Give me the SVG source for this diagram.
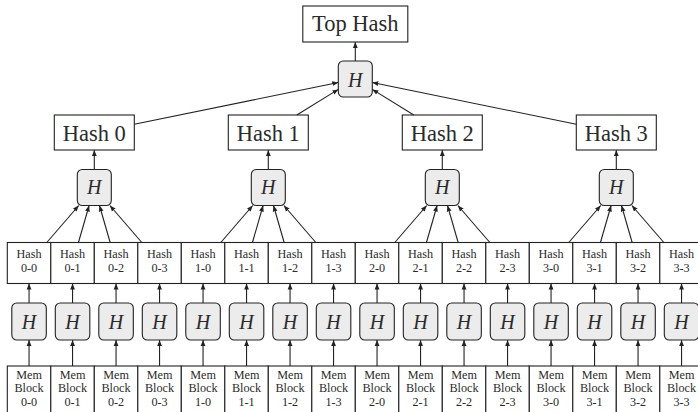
<svg xmlns="http://www.w3.org/2000/svg" width="698" height="412" viewBox="0 0 698 412" font-family="Liberation Serif, DejaVu Serif, serif">
<style>
.box{fill:#fff;stroke:#222;stroke-width:1.1}
.hb{fill:#ececec;stroke:#222;stroke-width:1.1}
.big,.sm,.h{font-family:'Liberation Serif','Times New Roman','DejaVu Serif',serif;fill:#2a2a2a;text-anchor:middle}
.big{font-size:22.5px}
.sm{font-size:12.2px}
.h{font-size:20px;font-style:italic}
.c line{stroke:#222;stroke-width:1.1;marker-end:url(#a)}
</style>
<defs>
<marker id="a" viewBox="0 0 6 6" refX="6" refY="3" markerWidth="6" markerHeight="6" orient="auto" markerUnits="userSpaceOnUse"><path d="M0,0.6 L6,3 L0,5.4 z" fill="#222"/></marker>
</defs>
<rect width="698" height="412" fill="#fff"/>
<g id="top-hash"><rect class="box" x="302.8" y="6" width="105" height="36"/><text class="big" x="355.3" y="31">Top Hash</text></g>
<g id="h-top"><rect class="hb" x="338.3" y="61" width="34" height="36" rx="5"/><text class="h" x="355.3" y="87">H</text></g>
<g id="hash-0"><rect class="box" x="54.3" y="115" width="80" height="35"/><text class="big" x="94.3" y="141">Hash 0</text></g>
<g id="hash-1"><rect class="box" x="228.3" y="115" width="80" height="35"/><text class="big" x="268.3" y="141">Hash 1</text></g>
<g id="hash-2"><rect class="box" x="402.3" y="115" width="80" height="35"/><text class="big" x="442.3" y="141">Hash 2</text></g>
<g id="hash-3"><rect class="box" x="576.3" y="115" width="80" height="35"/><text class="big" x="616.3" y="141">Hash 3</text></g>
<g id="h-g0"><rect class="hb" x="77.3" y="169.5" width="34" height="36" rx="5"/><text class="h" x="94.3" y="194">H</text></g>
<g id="h-g1"><rect class="hb" x="251.3" y="169.5" width="34" height="36" rx="5"/><text class="h" x="268.3" y="194">H</text></g>
<g id="h-g2"><rect class="hb" x="425.3" y="169.5" width="34" height="36" rx="5"/><text class="h" x="442.3" y="194">H</text></g>
<g id="h-g3"><rect class="hb" x="599.3" y="169.5" width="34" height="36" rx="5"/><text class="h" x="616.3" y="194">H</text></g>

<g id="hash-0-0"><rect class="box" x="7.3" y="242.5" width="43.5" height="41"/><text class="sm" x="29.05" y="258">Hash</text><text class="sm" x="29.05" y="271.7">0-0</text></g>
<g id="hash-0-1"><rect class="box" x="50.8" y="242.5" width="43.5" height="41"/><text class="sm" x="72.55" y="258">Hash</text><text class="sm" x="72.55" y="271.7">0-1</text></g>
<g id="hash-0-2"><rect class="box" x="94.3" y="242.5" width="43.5" height="41"/><text class="sm" x="116.05" y="258">Hash</text><text class="sm" x="116.05" y="271.7">0-2</text></g>
<g id="hash-0-3"><rect class="box" x="137.8" y="242.5" width="43.5" height="41"/><text class="sm" x="159.55" y="258">Hash</text><text class="sm" x="159.55" y="271.7">0-3</text></g>
<g id="hash-1-0"><rect class="box" x="181.3" y="242.5" width="43.5" height="41"/><text class="sm" x="203.05" y="258">Hash</text><text class="sm" x="203.05" y="271.7">1-0</text></g>
<g id="hash-1-1"><rect class="box" x="224.8" y="242.5" width="43.5" height="41"/><text class="sm" x="246.55" y="258">Hash</text><text class="sm" x="246.55" y="271.7">1-1</text></g>
<g id="hash-1-2"><rect class="box" x="268.3" y="242.5" width="43.5" height="41"/><text class="sm" x="290.05" y="258">Hash</text><text class="sm" x="290.05" y="271.7">1-2</text></g>
<g id="hash-1-3"><rect class="box" x="311.8" y="242.5" width="43.5" height="41"/><text class="sm" x="333.55" y="258">Hash</text><text class="sm" x="333.55" y="271.7">1-3</text></g>
<g id="hash-2-0"><rect class="box" x="355.3" y="242.5" width="43.5" height="41"/><text class="sm" x="377.05" y="258">Hash</text><text class="sm" x="377.05" y="271.7">2-0</text></g>
<g id="hash-2-1"><rect class="box" x="398.8" y="242.5" width="43.5" height="41"/><text class="sm" x="420.55" y="258">Hash</text><text class="sm" x="420.55" y="271.7">2-1</text></g>
<g id="hash-2-2"><rect class="box" x="442.3" y="242.5" width="43.5" height="41"/><text class="sm" x="464.05" y="258">Hash</text><text class="sm" x="464.05" y="271.7">2-2</text></g>
<g id="hash-2-3"><rect class="box" x="485.8" y="242.5" width="43.5" height="41"/><text class="sm" x="507.55" y="258">Hash</text><text class="sm" x="507.55" y="271.7">2-3</text></g>
<g id="hash-3-0"><rect class="box" x="529.3" y="242.5" width="43.5" height="41"/><text class="sm" x="551.05" y="258">Hash</text><text class="sm" x="551.05" y="271.7">3-0</text></g>
<g id="hash-3-1"><rect class="box" x="572.8" y="242.5" width="43.5" height="41"/><text class="sm" x="594.55" y="258">Hash</text><text class="sm" x="594.55" y="271.7">3-1</text></g>
<g id="hash-3-2"><rect class="box" x="616.3" y="242.5" width="43.5" height="41"/><text class="sm" x="638.05" y="258">Hash</text><text class="sm" x="638.05" y="271.7">3-2</text></g>
<g id="hash-3-3"><rect class="box" x="659.8" y="242.5" width="43.5" height="41"/><text class="sm" x="681.55" y="258">Hash</text><text class="sm" x="681.55" y="271.7">3-3</text></g>

<g id="h-0-0"><rect class="hb" x="11.8" y="303" width="34.5" height="37" rx="5"/><text class="h" x="29.05" y="329">H</text></g>
<g id="h-0-1"><rect class="hb" x="55.3" y="303" width="34.5" height="37" rx="5"/><text class="h" x="72.55" y="329">H</text></g>
<g id="h-0-2"><rect class="hb" x="98.8" y="303" width="34.5" height="37" rx="5"/><text class="h" x="116.05" y="329">H</text></g>
<g id="h-0-3"><rect class="hb" x="142.3" y="303" width="34.5" height="37" rx="5"/><text class="h" x="159.55" y="329">H</text></g>
<g id="h-1-0"><rect class="hb" x="185.8" y="303" width="34.5" height="37" rx="5"/><text class="h" x="203.05" y="329">H</text></g>
<g id="h-1-1"><rect class="hb" x="229.3" y="303" width="34.5" height="37" rx="5"/><text class="h" x="246.55" y="329">H</text></g>
<g id="h-1-2"><rect class="hb" x="272.8" y="303" width="34.5" height="37" rx="5"/><text class="h" x="290.05" y="329">H</text></g>
<g id="h-1-3"><rect class="hb" x="316.3" y="303" width="34.5" height="37" rx="5"/><text class="h" x="333.55" y="329">H</text></g>
<g id="h-2-0"><rect class="hb" x="359.8" y="303" width="34.5" height="37" rx="5"/><text class="h" x="377.05" y="329">H</text></g>
<g id="h-2-1"><rect class="hb" x="403.3" y="303" width="34.5" height="37" rx="5"/><text class="h" x="420.55" y="329">H</text></g>
<g id="h-2-2"><rect class="hb" x="446.8" y="303" width="34.5" height="37" rx="5"/><text class="h" x="464.05" y="329">H</text></g>
<g id="h-2-3"><rect class="hb" x="490.3" y="303" width="34.5" height="37" rx="5"/><text class="h" x="507.55" y="329">H</text></g>
<g id="h-3-0"><rect class="hb" x="533.8" y="303" width="34.5" height="37" rx="5"/><text class="h" x="551.05" y="329">H</text></g>
<g id="h-3-1"><rect class="hb" x="577.3" y="303" width="34.5" height="37" rx="5"/><text class="h" x="594.55" y="329">H</text></g>
<g id="h-3-2"><rect class="hb" x="620.8" y="303" width="34.5" height="37" rx="5"/><text class="h" x="638.05" y="329">H</text></g>
<g id="h-3-3"><rect class="hb" x="664.3" y="303" width="34.5" height="37" rx="5"/><text class="h" x="681.55" y="329">H</text></g>

<g id="mem-0-0"><rect class="box" x="7.3" y="366" width="43.5" height="48"/><text class="sm" x="29.05" y="378.5">Mem</text><text class="sm" x="29.05" y="392.2">Block</text><text class="sm" x="29.05" y="405.9">0-0</text></g>
<g id="mem-0-1"><rect class="box" x="50.8" y="366" width="43.5" height="48"/><text class="sm" x="72.55" y="378.5">Mem</text><text class="sm" x="72.55" y="392.2">Block</text><text class="sm" x="72.55" y="405.9">0-1</text></g>
<g id="mem-0-2"><rect class="box" x="94.3" y="366" width="43.5" height="48"/><text class="sm" x="116.05" y="378.5">Mem</text><text class="sm" x="116.05" y="392.2">Block</text><text class="sm" x="116.05" y="405.9">0-2</text></g>
<g id="mem-0-3"><rect class="box" x="137.8" y="366" width="43.5" height="48"/><text class="sm" x="159.55" y="378.5">Mem</text><text class="sm" x="159.55" y="392.2">Block</text><text class="sm" x="159.55" y="405.9">0-3</text></g>
<g id="mem-1-0"><rect class="box" x="181.3" y="366" width="43.5" height="48"/><text class="sm" x="203.05" y="378.5">Mem</text><text class="sm" x="203.05" y="392.2">Block</text><text class="sm" x="203.05" y="405.9">1-0</text></g>
<g id="mem-1-1"><rect class="box" x="224.8" y="366" width="43.5" height="48"/><text class="sm" x="246.55" y="378.5">Mem</text><text class="sm" x="246.55" y="392.2">Block</text><text class="sm" x="246.55" y="405.9">1-1</text></g>
<g id="mem-1-2"><rect class="box" x="268.3" y="366" width="43.5" height="48"/><text class="sm" x="290.05" y="378.5">Mem</text><text class="sm" x="290.05" y="392.2">Block</text><text class="sm" x="290.05" y="405.9">1-2</text></g>
<g id="mem-1-3"><rect class="box" x="311.8" y="366" width="43.5" height="48"/><text class="sm" x="333.55" y="378.5">Mem</text><text class="sm" x="333.55" y="392.2">Block</text><text class="sm" x="333.55" y="405.9">1-3</text></g>
<g id="mem-2-0"><rect class="box" x="355.3" y="366" width="43.5" height="48"/><text class="sm" x="377.05" y="378.5">Mem</text><text class="sm" x="377.05" y="392.2">Block</text><text class="sm" x="377.05" y="405.9">2-0</text></g>
<g id="mem-2-1"><rect class="box" x="398.8" y="366" width="43.5" height="48"/><text class="sm" x="420.55" y="378.5">Mem</text><text class="sm" x="420.55" y="392.2">Block</text><text class="sm" x="420.55" y="405.9">2-1</text></g>
<g id="mem-2-2"><rect class="box" x="442.3" y="366" width="43.5" height="48"/><text class="sm" x="464.05" y="378.5">Mem</text><text class="sm" x="464.05" y="392.2">Block</text><text class="sm" x="464.05" y="405.9">2-2</text></g>
<g id="mem-2-3"><rect class="box" x="485.8" y="366" width="43.5" height="48"/><text class="sm" x="507.55" y="378.5">Mem</text><text class="sm" x="507.55" y="392.2">Block</text><text class="sm" x="507.55" y="405.9">2-3</text></g>
<g id="mem-3-0"><rect class="box" x="529.3" y="366" width="43.5" height="48"/><text class="sm" x="551.05" y="378.5">Mem</text><text class="sm" x="551.05" y="392.2">Block</text><text class="sm" x="551.05" y="405.9">3-0</text></g>
<g id="mem-3-1"><rect class="box" x="572.8" y="366" width="43.5" height="48"/><text class="sm" x="594.55" y="378.5">Mem</text><text class="sm" x="594.55" y="392.2">Block</text><text class="sm" x="594.55" y="405.9">3-1</text></g>
<g id="mem-3-2"><rect class="box" x="616.3" y="366" width="43.5" height="48"/><text class="sm" x="638.05" y="378.5">Mem</text><text class="sm" x="638.05" y="392.2">Block</text><text class="sm" x="638.05" y="405.9">3-2</text></g>
<g id="mem-3-3"><rect class="box" x="659.8" y="366" width="43.5" height="48"/><text class="sm" x="681.55" y="378.5">Mem</text><text class="sm" x="681.55" y="392.2">Block</text><text class="sm" x="681.55" y="405.9">3-3</text></g>

<g id="connectors" class="c">
<line x1="355.3" y1="61" x2="355.3" y2="42"/>
<line x1="134.3" y1="124.3" x2="338.3" y2="82.5"/>
<line x1="296.8" y1="115" x2="338.3" y2="89.4"/>
<line x1="413.8" y1="115" x2="372.3" y2="89.4"/>
<line x1="576.3" y1="124.3" x2="372.3" y2="82.5"/>
<line x1="94.3" y1="169.5" x2="94.3" y2="150"/>
<line x1="268.3" y1="169.5" x2="268.3" y2="150"/>
<line x1="442.3" y1="169.5" x2="442.3" y2="150"/>
<line x1="616.3" y1="169.5" x2="616.3" y2="150"/>
<line x1="46.77" y1="242.5" x2="78.74" y2="205.5"/>
<line x1="78.45" y1="242.5" x2="89.11" y2="205.5"/>
<line x1="110.15" y1="242.5" x2="99.49" y2="205.5"/>
<line x1="141.83" y1="242.5" x2="109.86" y2="205.5"/>
<line x1="220.77" y1="242.5" x2="252.74" y2="205.5"/>
<line x1="252.45" y1="242.5" x2="263.11" y2="205.5"/>
<line x1="284.15" y1="242.5" x2="273.49" y2="205.5"/>
<line x1="315.83" y1="242.5" x2="283.86" y2="205.5"/>
<line x1="394.77" y1="242.5" x2="426.74" y2="205.5"/>
<line x1="426.45" y1="242.5" x2="437.11" y2="205.5"/>
<line x1="458.15" y1="242.5" x2="447.49" y2="205.5"/>
<line x1="489.83" y1="242.5" x2="457.86" y2="205.5"/>
<line x1="568.77" y1="242.5" x2="600.74" y2="205.5"/>
<line x1="600.45" y1="242.5" x2="611.11" y2="205.5"/>
<line x1="632.15" y1="242.5" x2="621.49" y2="205.5"/>
<line x1="663.83" y1="242.5" x2="631.86" y2="205.5"/>
<line x1="29.05" y1="303" x2="29.05" y2="283.5"/>
<line x1="72.55" y1="303" x2="72.55" y2="283.5"/>
<line x1="116.05" y1="303" x2="116.05" y2="283.5"/>
<line x1="159.55" y1="303" x2="159.55" y2="283.5"/>
<line x1="203.05" y1="303" x2="203.05" y2="283.5"/>
<line x1="246.55" y1="303" x2="246.55" y2="283.5"/>
<line x1="290.05" y1="303" x2="290.05" y2="283.5"/>
<line x1="333.55" y1="303" x2="333.55" y2="283.5"/>
<line x1="377.05" y1="303" x2="377.05" y2="283.5"/>
<line x1="420.55" y1="303" x2="420.55" y2="283.5"/>
<line x1="464.05" y1="303" x2="464.05" y2="283.5"/>
<line x1="507.55" y1="303" x2="507.55" y2="283.5"/>
<line x1="551.05" y1="303" x2="551.05" y2="283.5"/>
<line x1="594.55" y1="303" x2="594.55" y2="283.5"/>
<line x1="638.05" y1="303" x2="638.05" y2="283.5"/>
<line x1="681.55" y1="303" x2="681.55" y2="283.5"/>
<line x1="29.05" y1="366" x2="29.05" y2="340"/>
<line x1="72.55" y1="366" x2="72.55" y2="340"/>
<line x1="116.05" y1="366" x2="116.05" y2="340"/>
<line x1="159.55" y1="366" x2="159.55" y2="340"/>
<line x1="203.05" y1="366" x2="203.05" y2="340"/>
<line x1="246.55" y1="366" x2="246.55" y2="340"/>
<line x1="290.05" y1="366" x2="290.05" y2="340"/>
<line x1="333.55" y1="366" x2="333.55" y2="340"/>
<line x1="377.05" y1="366" x2="377.05" y2="340"/>
<line x1="420.55" y1="366" x2="420.55" y2="340"/>
<line x1="464.05" y1="366" x2="464.05" y2="340"/>
<line x1="507.55" y1="366" x2="507.55" y2="340"/>
<line x1="551.05" y1="366" x2="551.05" y2="340"/>
<line x1="594.55" y1="366" x2="594.55" y2="340"/>
<line x1="638.05" y1="366" x2="638.05" y2="340"/>
<line x1="681.55" y1="366" x2="681.55" y2="340"/>
</g>
</svg>
